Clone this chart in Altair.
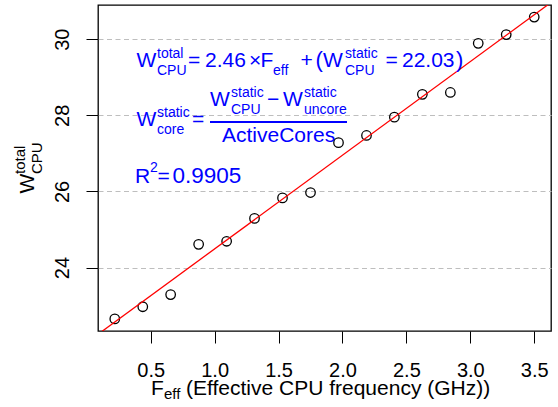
import altair as alt
import pandas as pd

# ---------------- data ----------------
freq_ghz = [0.219, 0.438, 0.656, 0.875, 1.094, 1.312, 1.531, 1.750,
            1.969, 2.188, 2.406, 2.625, 2.844, 3.062, 3.281, 3.500]
power_w = [22.65, 22.97, 23.29, 24.61, 24.69, 25.29, 25.83, 25.97,
           27.28, 27.47, 27.95, 28.55, 28.60, 29.89, 30.12, 30.58]
fit_slope = 2.46
fit_intercept = 22.03
x_ticks = [0.5, 1.0, 1.5, 2.0, 2.5, 3.0, 3.5]
y_ticks = [24, 26, 28, 30]

# R-style axis ranges (data range extended by 4 %)
def r_range(v):
    lo, hi = min(v), max(v)
    pad = (hi - lo) * 0.04
    return [lo - pad, hi + pad]

x_dom = r_range(freq_ghz)
y_dom = r_range(power_w)

pts = pd.DataFrame({"f": freq_ghz, "w": power_w})
fit = pd.DataFrame({"f": x_dom, "w": [fit_intercept + fit_slope * v for v in x_dom]})

# ---------------- layout ----------------
LEFT, TOP, W, H = 98, 5, 453, 326
FONT = "Liberation Sans"
BLUE = "#0000FF"

# annotation pieces: (text, page x, page baseline y, font size)
blue_pieces = [
    ("W", 136.5, 67, 21), ("total", 157, 58, 14), ("CPU", 157, 75, 14),
    ("=", 188, 67, 21), ("2.46", 205, 67, 21), ("\u00d7", 249, 67, 21),
    ("F", 260.5, 67, 21), ("eff", 273, 75, 14), ("+", 300.5, 67, 21),
    ("(", 315.5, 67, 22), ("W", 323, 67, 21), ("static", 345, 58, 14),
    ("CPU", 345, 75, 14), ("=", 385.5, 67, 21), ("22.03", 402, 67, 21),
    (")", 456, 67, 22),
    ("W", 136.5, 125.5, 21), ("static", 157, 116.5, 14), ("core", 157, 133.5, 14),
    ("=", 192, 125.5, 21),
    ("W", 210, 105.5, 21), ("static", 231, 96.5, 14), ("CPU", 231, 113.5, 14),
    ("\u2212", 267, 105.5, 21),
    ("W", 283, 105.5, 21), ("static", 304, 96.5, 14), ("uncore", 304, 113.5, 14),
    ("ActiveCores", 222, 142, 21),
    ("R", 135, 182.5, 21), ("2", 150, 171.5, 14), ("=", 157.5, 182.5, 21),
    ("0.9905", 172.5, 182.5, 22.5),
]
black_pieces = [
    ("F", 151, 394.5, 21, 0), ("eff", 164, 399, 15, 0),
    ("(Effective CPU frequency (GHz))", 186, 394.5, 21, 0),
    ("W", 34, 193.5, 21, 270), ("total", 25, 174, 15, 270), ("CPU", 42, 174, 15, 270),
]

blue_df = pd.DataFrame(
    [{"t": t, "px": x - LEFT, "py": y - TOP, "s": s} for t, x, y, s in blue_pieces]
)
black_df = pd.DataFrame(
    [{"t": t, "px": x - LEFT, "py": y - TOP, "s": s, "a": a} for t, x, y, s, a in black_pieces]
)

xs = alt.Scale(domain=x_dom, nice=False, zero=False)
ys = alt.Scale(domain=y_dom, nice=False, zero=False)

x_axis = alt.Axis(values=x_ticks, format=".1f", title=None, domain=False, grid=False,
                  tickSize=12, tickColor="black", tickWidth=1,
                  labelFont=FONT, labelFontSize=20, labelColor="black",
                  labelBaseline="alphabetic", labelPadding=33, labelFlush=False)
y_axis = alt.Axis(values=y_ticks, format="d", title=None, domain=False, grid=True,
                  gridColor="#BEBEBE", gridDash=[5, 3.5], gridWidth=1,
                  tickSize=12, tickColor="black", tickWidth=1,
                  labelFont=FONT, labelFontSize=20, labelColor="black",
                  labelAngle=270, labelAlign="center", labelBaseline="alphabetic",
                  labelPadding=18, labelFlush=False)

points = alt.Chart(pts).mark_point(
    shape="circle", filled=False, size=90, color="black", strokeWidth=1.3, opacity=1
).encode(
    x=alt.X("f:Q", scale=xs, axis=x_axis),
    y=alt.Y("w:Q", scale=ys, axis=y_axis),
)

line = alt.Chart(fit).mark_line(color="#FF0000", strokeWidth=1.3, clip=True).encode(
    x=alt.X("f:Q", scale=xs),
    y=alt.Y("w:Q", scale=ys),
)

blue_text = alt.Chart(blue_df).mark_text(
    align="left", baseline="alphabetic", font=FONT, color=BLUE
).encode(
    x=alt.X("px:Q", scale=None),
    y=alt.Y("py:Q", scale=None),
    text="t:N",
    size=alt.Size("s:Q", scale=None),
)

frac_bar = alt.Chart(blue_df).mark_rule(color=BLUE, strokeWidth=1.5).encode(
    x=alt.value(210 - LEFT), x2=alt.value(347 - LEFT), y=alt.value(122 - TOP)
)

black_text = alt.Chart(black_df).mark_text(
    align="left", baseline="alphabetic", font=FONT, color="black"
).encode(
    x=alt.X("px:Q", scale=None),
    y=alt.Y("py:Q", scale=None),
    text="t:N",
    size=alt.Size("s:Q", scale=None),
    angle=alt.Angle("a:Q", scale=None),
)

chart = alt.layer(points, line, blue_text, frac_bar, black_text).properties(
    width=W, height=H,
    autosize=alt.AutoSizeParams(type="none"),
    padding={"left": LEFT, "top": TOP, "right": 558 - LEFT - W, "bottom": 407 - TOP - H},
    background="white",
).configure_view(stroke="black", strokeWidth=1.3)

chart.save("out.html", embed_options={"renderer": "svg", "actions": False})
